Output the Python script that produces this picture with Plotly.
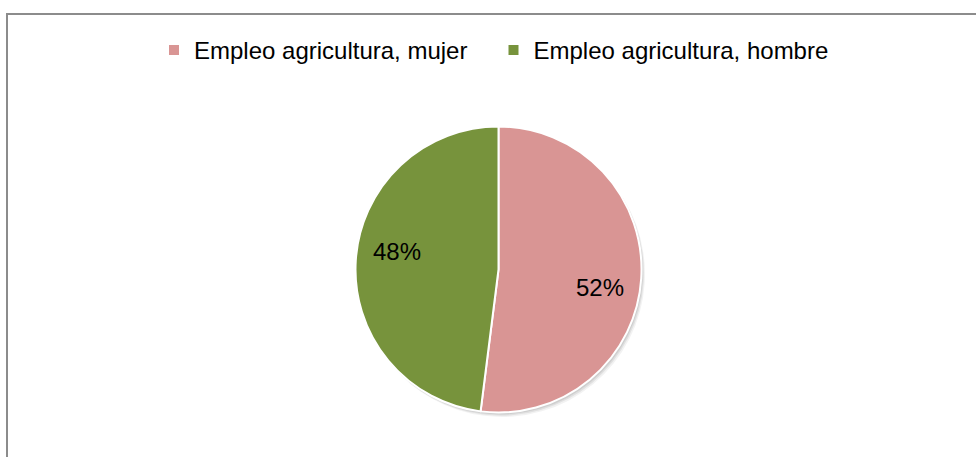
import math
import plotly.graph_objects as go

# Agricultural employment split by sex
labels = ["Empleo agricultura, mujer", "Empleo agricultura, hombre"]
values = [52, 48]
colors = ["#D99594", "#77933C"]

W, H = 976, 457
FONT = "Liberation Sans, Arial, sans-serif"
FS = 24

# pie geometry in pixels (top-left origin)
CX, CY, R = 498.5, 269.5, 143.0


def px_domain(cx, cy, r):
    return dict(x=[(cx - r) / W, (cx + r) / W],
                y=[(H - (cy + r)) / H, (H - (cy - r)) / H])


fig = go.Figure()

# soft drop shadow under the pie
for dx, dy, a in [(3.5, 4.5, 0.05), (2.5, 3.2, 0.07), (1.5, 2.0, 0.08)]:
    fig.add_trace(go.Pie(
        labels=["s1", "s2"], values=values, sort=False, direction="clockwise",
        marker=dict(colors=[f"rgba(0,0,0,{a})"] * 2, line=dict(width=0)),
        textinfo="none", hoverinfo="skip", showlegend=False,
        domain=px_domain(CX + dx, CY + dy, R),
    ))

fig.add_trace(go.Pie(
    labels=labels, values=values, sort=False, direction="clockwise",
    marker=dict(colors=colors, line=dict(color="white", width=2)),
    textinfo="none", hoverinfo="label+percent",
    domain=px_domain(CX, CY, R),
))

# percentage labels placed inside each slice
total = sum(values)
start = 0.0
LABEL_R = 0.72
LABEL_TILT = 6.5
for v in values:
    frac = v / total
    mid = start + frac * 180.0
    ang = math.radians(mid + LABEL_TILT)
    x = CX + LABEL_R * R * math.sin(ang)
    y = CY - LABEL_R * R * math.cos(ang)
    fig.add_annotation(
        x=x / W, y=1 - y / H, xref="paper", yref="paper",
        text=f"{round(frac * 100)}%", showarrow=False,
        font=dict(family=FONT, size=FS, color="black"),
        xanchor="center", yanchor="middle",
    )
    start += frac * 360.0

# chart frame
fig.add_shape(type="rect", xref="paper", yref="paper",
              x0=7 / W, x1=1.2, y0=-0.2, y1=1 - 14 / H,
              line=dict(color="#8c8c8c", width=2), layer="below")

fig.update_layout(
    width=W, height=H,
    margin=dict(l=0, r=0, t=0, b=0),
    paper_bgcolor="white", plot_bgcolor="white",
    font=dict(family=FONT, size=FS, color="black"),
    legend=dict(orientation="h", x=0.5 + 5.5 / W, xanchor="center",
                y=1 - 28 / H, yanchor="top", entrywidth=294.5,
                font=dict(family=FONT, size=FS, color="black"),
                bgcolor="rgba(0,0,0,0)", itemclick=False),
)

fig.write_html("out.html")
